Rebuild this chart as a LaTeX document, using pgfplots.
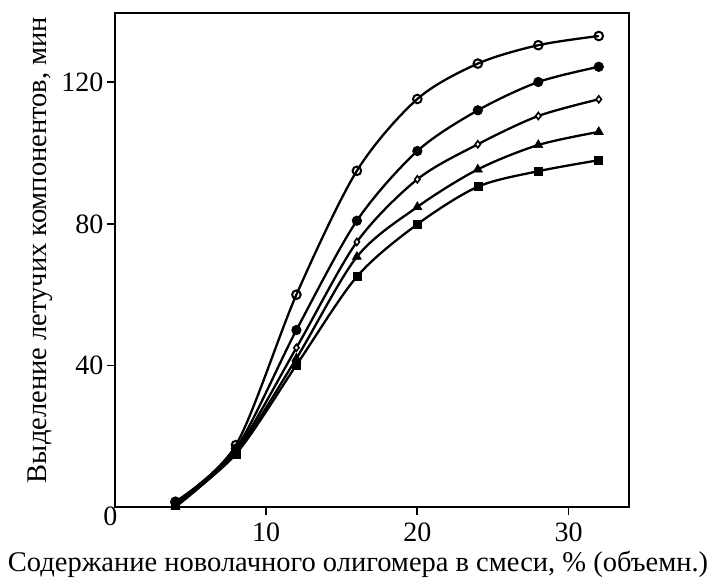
\documentclass[border=0pt]{standalone}
\usepackage{pgfplots}
\pgfplotsset{compat=1.18}
\usepackage{fontspec}
\setmainfont{Liberation Serif}
\begin{document}
\begin{tikzpicture}
\begin{axis}[
  at={(0pt,0pt)}, anchor=south west,
  width=514pt, height=494pt, scale only axis,
  xmin=0, xmax=34, ymin=0, ymax=139.6,
  xtick={10,20,30}, ytick={40,80,120},
  extra y ticks={0},
  extra y tick style={major tick length=0pt, yticklabel style={xshift=6pt, yshift=-9pt}},
  tick align=outside, tick pos=left,
  major tick length=8pt,
  axis line style={line width=1.8pt},
  every tick/.style={line width=1.8pt, black},
  /pgf/number format/assume math mode=true,
  tick label style={font=\fontsize{28}{32}\selectfont},
  xticklabel style={yshift=-4pt},
  label style={font=\fontsize{28.5}{32}\selectfont},
  xlabel={Содержание новолачного олигомера в смеси, \% (объемн.)},
  ylabel={Выделение летучих компонентов, мин},
  xlabel style={at={(axis description cs:0.4728,-0.1296)}, anchor=base},
  ylabel style={at={(axis description cs:-0.1342,0.5202)}, anchor=base},
  every axis plot/.append style={line width=2.3pt, black, smooth},
]
\addplot[mark=o, mark size=4.3pt, mark options={fill=white, line width=2pt}] coordinates {
(4,1.5) (8,17.5) (12,60) (16,95) (20,115.3) (24,125.3) (28,130.5) (32,133.1)};
\addplot[mark=*, mark size=4.6pt, mark options={fill=black, line width=1pt}] coordinates {
(4,1.2) (8,16.5) (12,50) (16,80.9) (20,100.6) (24,112.1) (28,120.1) (32,124.4)};
\addplot[mark=diamond*, mark size=3.5pt, mark options={fill=white, line width=1.6pt}] coordinates {
(4,1) (8,16) (12,45) (16,74.9) (20,92.6) (24,102.5) (28,110.5) (32,115.2)};
\addplot[mark=triangle*, mark size=5.2pt, mark options={fill=black, line width=0.6pt}] coordinates {
(4,0) (8,15.5) (12,42) (16,70.7) (20,84.8) (24,95.4) (28,102.3) (32,106)};
\addplot[mark=square*, mark size=4pt, mark options={fill=black, line width=0.6pt}] coordinates {
(4,0.5) (8,15) (12,40.1) (16,65.1) (20,79.9) (24,90.5) (28,94.9) (32,98)};
\end{axis}
\path[use as bounding box] (-115pt,-71pt) rectangle (601pt,507pt);
\end{tikzpicture}
\end{document}
